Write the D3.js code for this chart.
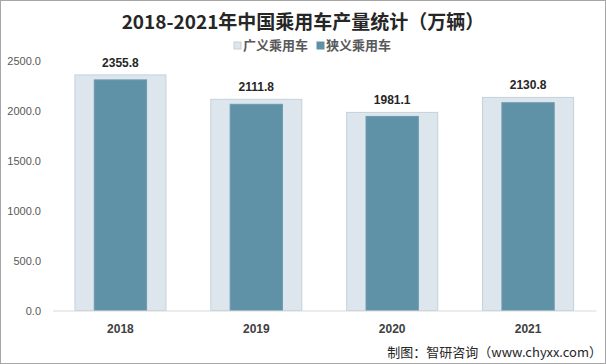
<!DOCTYPE html>
<html><head><meta charset="utf-8">
<script src="https://cdn.jsdelivr.net/npm/d3@7"></script>
<style>
html,body{margin:0;padding:0;background:#fff;}
svg{display:block;}
</style></head>
<body>
<svg id="c" width="606" height="364"></svg>
<script>
const categories = ["2018","2019","2020","2021"];
const broadValues = [2355.8, 2111.8, 1981.1, 2130.8];   // 广义乘用车
const narrowValues = [2306, 2062, 1941, 2078];          // 狭义乘用车 (estimated)
const yTicks = [0, 500, 1000, 1500, 2000, 2500];
const seriesNames = ["广义乘用车", "狭义乘用车"];
const seriesColors = ["#dde6ec", "#5f91a7"];

const svg = d3.select("#c");
const W = 606, H = 364;
const cjk = "'Noto Sans CJK SC', 'Noto Sans', sans-serif";
const lat = "'Liberation Sans', Arial, sans-serif";

svg.append("rect").attr("x",0.5).attr("y",0.5).attr("width",W-1).attr("height",H-1)
  .attr("fill","#fff").attr("stroke","#a6a6a6");

const x = d3.scaleBand().domain(categories).range([52.5, 596]).paddingInner(0).paddingOuter(0);
const y = d3.scaleLinear().domain([0, 2500]).range([310.5, 60.5]);

// title
svg.append("text").attr("x", 303).attr("y", 29).attr("text-anchor","middle")
  .style("font-family", cjk).style("font-weight","bold").style("font-size","19px")
  .attr("fill","#262626").text("2018-2021年中国乘用车产量统计（万辆）");

// legend
const leg = svg.append("g");
const legX = [234, 317];
seriesNames.forEach((n,i)=>{
  leg.append("rect").attr("x", legX[i]).attr("y", 42).attr("width",7).attr("height",7)
    .attr("fill", seriesColors[i]).attr("stroke", i===0 ? "#c3d2db" : "#5f91a7");
  leg.append("text").attr("x", legX[i]+9).attr("y", 50)
    .style("font-family", cjk).style("font-size","13px").style("font-weight","bold")
    .attr("fill","#595959").text(n);
});

// y axis labels
const yAxis = d3.axisLeft(y).tickValues(yTicks).tickFormat(d=>d3.format(".1f")(d)).tickSize(0).tickPadding(0);
const ya = svg.append("g").attr("transform","translate(41,0)").call(yAxis);
ya.select(".domain").remove();
ya.selectAll("text").style("font-family", lat).style("font-size","11px").attr("fill","#595959");

// bars
const wideW = x.bandwidth()*0.67, narrowW = x.bandwidth()*0.385;
svg.append("g").selectAll("rect").data(categories).join("rect")
  .attr("x", d=> x(d)+x.bandwidth()/2 - wideW/2)
  .attr("y", (d,i)=> y(broadValues[i]))
  .attr("width", wideW)
  .attr("height", (d,i)=> y(0)-y(broadValues[i]))
  .attr("fill", seriesColors[0]).attr("stroke","#c3d2db").attr("stroke-width",1);

svg.append("g").selectAll("rect").data(categories).join("rect")
  .attr("x", d=> x(d)+x.bandwidth()/2 - narrowW/2)
  .attr("y", (d,i)=> y(narrowValues[i]))
  .attr("width", narrowW)
  .attr("height", (d,i)=> y(0)-y(narrowValues[i]))
  .attr("fill", seriesColors[1]).attr("stroke","#6d9bb0").attr("stroke-width",1);

// value labels
svg.append("g").selectAll("text").data(categories).join("text")
  .attr("x", d=> x(d)+x.bandwidth()/2)
  .attr("y", (d,i)=> y(broadValues[i]) - 8)
  .attr("text-anchor","middle")
  .style("font-family", lat).style("font-weight","bold").style("font-size","12px")
  .attr("fill","#262626").text((d,i)=> d3.format(".1f")(broadValues[i]));

// x axis
const xAxis = d3.axisBottom(x).tickSize(0).tickPadding(14);
const xa = svg.append("g").attr("transform","translate(0,310.5)").call(xAxis);
xa.select(".domain").attr("stroke","#d9d9d9");
xa.selectAll("text").style("font-family", lat).style("font-weight","bold").style("font-size","12px").attr("fill","#404040");

// footer
svg.append("text").attr("x", 602).attr("y", 357).attr("text-anchor","end")
  .style("font-family", cjk).style("font-size","13px").attr("fill","#262626")
  .text("制图：智研咨询（www.chyxx.com）");
</script>
</body></html>
